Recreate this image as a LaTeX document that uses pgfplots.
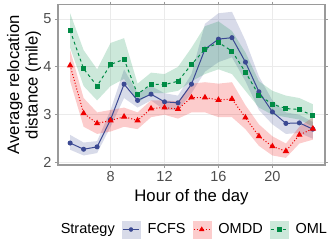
\documentclass[border=0pt]{standalone}
\usepackage{pgfplots}
\pgfplotsset{compat=1.18}
\usepackage{fontspec}
\setmainfont{Liberation Sans}
\definecolor{cfcfs}{HTML}{3B4992}
\definecolor{comdd}{HTML}{EE0000}
\definecolor{coml}{HTML}{008B45}
\definecolor{gridc}{HTML}{EBEBEB}
\definecolor{borderc}{HTML}{9A9A9A}
\definecolor{tickc}{HTML}{4D4D4D}
\begin{document}
\begin{tikzpicture}
\begin{axis}[
  name=ax,
  scale only axis, width=267bp, height=160.5bp,
  xmin=4.1, xmax=23.9, ymin=1.951, ymax=5.303,
  xtick={8,12,16,20}, ytick={2,3,4,5},
  tick align=outside, major tick length=3bp,
  every tick/.style={draw=borderc, line width=0.9bp},
  axis line style={draw=borderc, line width=1.2bp},
  grid=major, major grid style={draw=gridc, line width=0.9bp},
  tick label style={font=\fontsize{14.5bp}{17bp}\selectfont, text=tickc},
  /pgf/number format/assume math mode=true,
  xlabel={Hour of the day},
  ylabel={Average relocation\\distance (mile)},
  label style={font=\fontsize{16.7bp}{18.5bp}\selectfont},
  xlabel style={at={(axis description cs:0.5,-0.229)}, anchor=base},
  ylabel style={at={(axis description cs:-0.127,0.5)}, anchor=center, align=center},
  legend columns=4,
  legend style={at={(axis description cs:0.495,-0.402)}, anchor=center, draw=none, fill=none,
    font=\fontsize{14.5bp}{17bp}\selectfont, inner sep=0pt, outer sep=0pt,
    nodes={inner sep=0pt},
    /tikz/every odd column/.append style={column sep=7.5bp},
    /tikz/every even column/.append style={column sep=7bp}},
]
% ribbons
\addplot[draw=none, fill=cfcfs, fill opacity=0.2, forget plot] coordinates {
(5,2.58)(6,2.42)(7,2.45)(8,3.10)(9,3.95)(10,3.45)(11,3.60)(12,3.45)(13,3.40)(14,3.85)(15,4.90)(16,5.12)(17,5.15)(18,4.55)(19,3.80)(20,3.30)(21,3.05)(22,3.00)(23,2.85)
(23,2.50)(22,2.62)(21,2.60)(20,2.80)(19,3.10)(18,3.70)(17,4.20)(16,4.10)(15,3.90)(14,3.45)(13,3.10)(12,3.10)(11,3.30)(10,3.15)(9,3.35)(8,2.75)(7,2.20)(6,2.15)(5,2.27)
} -- cycle;
\addplot[draw=none, fill=comdd, fill opacity=0.2, forget plot] coordinates {
(5,4.35)(6,3.35)(7,3.05)(8,3.10)(9,3.15)(10,3.05)(11,3.30)(12,3.30)(13,3.28)(14,3.65)(15,3.68)(16,3.65)(17,3.68)(18,3.20)(19,2.80)(20,2.55)(21,2.40)(22,2.75)(23,2.95)
(23,2.48)(22,2.40)(21,2.10)(20,2.15)(19,2.35)(18,2.70)(17,2.95)(16,2.95)(15,3.05)(14,3.05)(13,2.92)(12,3.00)(11,2.95)(10,2.70)(9,2.75)(8,2.65)(7,2.60)(6,2.75)(5,3.70)
} -- cycle;
\addplot[draw=none, fill=coml, fill opacity=0.2, forget plot] coordinates {
(5,5.12)(6,4.35)(7,3.95)(8,4.50)(9,4.60)(10,3.65)(11,3.88)(12,3.85)(13,4.00)(14,4.40)(15,4.85)(16,4.95)(17,4.75)(18,4.30)(19,3.70)(20,3.50)(21,3.40)(22,3.35)(23,3.22)
(23,2.75)(22,2.90)(21,2.95)(20,3.00)(19,3.15)(18,3.50)(17,3.85)(16,3.95)(15,3.85)(14,3.70)(13,3.50)(12,3.45)(11,3.45)(10,3.25)(9,3.75)(8,3.60)(7,3.30)(6,3.60)(5,4.40)
} -- cycle;
% lines
\addplot[cfcfs, line width=1bp, mark=*, mark size=2bp, forget plot] coordinates {
(5,2.41)(6,2.28)(7,2.33)(8,2.90)(9,3.64)(10,3.30)(11,3.43)(12,3.27)(13,3.25)(14,3.64)(15,4.37)(16,4.58)(17,4.61)(18,4.10)(19,3.48)(20,3.06)(21,2.82)(22,2.83)(23,2.70)};
\addplot[comdd, line width=1bp, dotted, mark=triangle*, mark size=2.7bp, mark options={solid}, forget plot] coordinates {
(5,4.03)(6,3.03)(7,2.82)(8,2.88)(9,2.96)(10,2.88)(11,3.13)(12,3.15)(13,3.12)(14,3.36)(15,3.36)(16,3.31)(17,3.33)(18,2.94)(19,2.55)(20,2.34)(21,2.24)(22,2.58)(23,2.71)};
\addplot[coml, line width=1bp, dashed, mark=square*, mark size=2bp, mark options={solid}, forget plot] coordinates {
(5,4.76)(6,3.96)(7,3.60)(8,4.05)(9,4.16)(10,3.43)(11,3.64)(12,3.63)(13,3.70)(14,4.05)(15,4.37)(16,4.51)(17,4.33)(18,3.89)(19,3.41)(20,3.22)(21,3.13)(22,3.11)(23,2.98)};
% legend
\addlegendimage{empty legend}
\addlegendentry{Strategy}
\addlegendimage{legend image code/.code={
  \fill[cfcfs!20] (0bp,-8.5bp) rectangle (18bp,8.5bp);
  \draw[cfcfs, line width=1bp] (1bp,0) -- (17bp,0);
  \fill[cfcfs] (9bp,0) circle (2bp);}}
\addlegendentry{FCFS}
\addlegendimage{legend image code/.code={
  \fill[comdd!20] (0bp,-8.5bp) rectangle (18bp,8.5bp);
  \draw[comdd, line width=1bp, dotted] (1bp,0) -- (17bp,0);
  \fill[comdd] (9bp,2.7bp) -- (11.4bp,-1.35bp) -- (6.6bp,-1.35bp) -- cycle;}}
\addlegendentry{OMDD}
\addlegendimage{legend image code/.code={
  \fill[coml!20] (0bp,-8.5bp) rectangle (18bp,8.5bp);
  \draw[coml, line width=1bp, dashed] (1bp,0) -- (17bp,0);
  \fill[coml] (7bp,-2bp) rectangle (11bp,2bp);}}
\addlegendentry{OML}
\end{axis}
\pgfresetboundingbox
\path[use as bounding box] ([xshift=-58bp,yshift=-84bp]ax.south west) rectangle ++(332bp,249bp);
\end{tikzpicture}
\end{document}
